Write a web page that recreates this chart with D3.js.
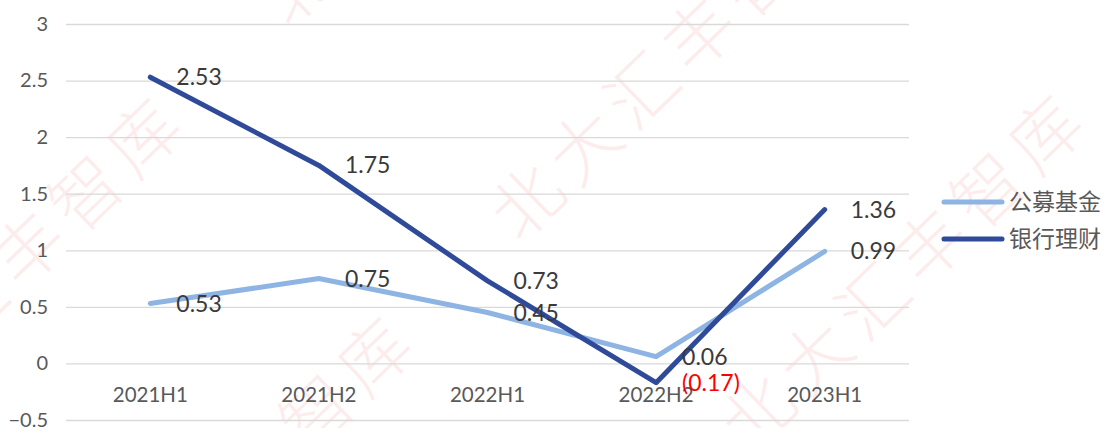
<!DOCTYPE html>
<html>
<head>
<meta charset="utf-8">
<script src="https://cdn.jsdelivr.net/npm/d3@7"></script>
<style>
  html, body { margin: 0; padding: 0; background: #fff; }
  svg { display: block; }
</style>
</head>
<body>
<div id="chart"></div>
<script>
const categories = ["2021H1", "2021H2", "2022H1", "2022H2", "2023H1"];
const seriesNames = ["公募基金", "银行理财"];
const fundValues = [0.53, 0.75, 0.45, 0.06, 0.99];
const bankValues = [2.53, 1.75, 0.73, -0.17, 1.36];
const fundLabels = ["0.53", "0.75", "0.45", "0.06", "0.99"];
const bankLabels = ["2.53", "1.75", "0.73", "(0.17)", "1.36"];
const yTicks = [-0.5, 0, 0.5, 1, 1.5, 2, 2.5, 3];
const watermarkText = "北大汇丰智库";

const W = 1105, H = 428;
const svg = d3.select("#chart").append("svg").attr("width", W).attr("height", H);

const x = d3.scaleBand().domain(categories).range([66, 909]);
const y = d3.scaleLinear().domain([-0.5, 3]).range([420, 24]);
const cx = d => x(d) + x.bandwidth() / 2;

// watermark
const wm = svg.append("g");
const wmCenters = [[4, 274], [675, 60], [235, 493], [906, 271], [444, -155]];
wmCenters.forEach(([px, py]) => {
  wm.append("text")
    .attr("transform", `translate(${px},${py}) rotate(-44)`)
    .attr("text-anchor", "middle")
    .attr("dy", "0.35em")
    .attr("font-family", "'Noto Sans CJK SC', sans-serif")
    .attr("font-weight", 300)
    .attr("font-size", 70)
    .attr("letter-spacing", 10)
    .attr("fill", "#e83030")
    .attr("fill-opacity", 0.09)
    .text(watermarkText);
});

// gridlines
const grid = svg.append("g")
  .attr("transform", "translate(66,0)")
  .call(d3.axisLeft(y).tickValues(yTicks).tickSize(-843).tickFormat(""));
grid.select(".domain").remove();
grid.selectAll("line").attr("stroke", "#d9d9d9").attr("stroke-width", 1.3);

// y tick labels
const yAxis = svg.append("g")
  .attr("transform", "translate(48,0)")
  .call(d3.axisLeft(y).tickValues(yTicks).tickSize(0).tickPadding(0).tickFormat(d3.format("")));
yAxis.select(".domain").remove();
yAxis.selectAll("text")
  .attr("font-family", "Lato, sans-serif")
  .attr("font-size", 20)
  .attr("fill", "#595959");

// x category labels
const xAxis = svg.append("g")
  .attr("transform", `translate(0,${y(0)})`)
  .call(d3.axisBottom(x).tickSize(0).tickPadding(24));
xAxis.select(".domain").remove();
xAxis.selectAll("text")
  .attr("font-family", "Lato, sans-serif")
  .attr("font-size", 20.5)
  .attr("fill", "#595959");

// lines
const line = d3.line().x((d, i) => cx(categories[i])).y(d => y(d));
svg.append("path").datum(fundValues)
  .attr("d", line).attr("fill", "none")
  .attr("stroke", "#8eb4e3").attr("stroke-width", 5)
  .attr("stroke-linecap", "round").attr("stroke-linejoin", "round");
svg.append("path").datum(bankValues)
  .attr("d", line).attr("fill", "none")
  .attr("stroke", "#2f4a98").attr("stroke-width", 5)
  .attr("stroke-linecap", "round").attr("stroke-linejoin", "round");

// data labels
function labels(values, texts, colorFn) {
  svg.append("g").selectAll("text").data(values).join("text")
    .attr("x", (d, i) => cx(categories[i]) + 26)
    .attr("y", d => y(d))
    .attr("dy", "0.35em")
    .attr("font-family", "Lato, sans-serif")
    .attr("font-size", 23)
    .attr("fill", (d, i) => colorFn(d, i))
    .text((d, i) => texts[i]);
}
labels(fundValues, fundLabels, () => "#3a3a3a");
labels(bankValues, bankLabels, d => d < 0 ? "#ff0000" : "#3a3a3a");

// legend
const legendColors = ["#8eb4e3", "#2f4a98"];
const legendY = [202, 239];
const lg = svg.append("g");
seriesNames.forEach((name, i) => {
  lg.append("line")
    .attr("x1", 944).attr("x2", 1002)
    .attr("y1", legendY[i]).attr("y2", legendY[i])
    .attr("stroke", legendColors[i]).attr("stroke-width", 5)
    .attr("stroke-linecap", "round");
  lg.append("text")
    .attr("x", 1009).attr("y", legendY[i]).attr("dy", "0.35em")
    .attr("font-family", "'Noto Sans CJK SC', sans-serif")
    .attr("font-size", 23)
    .attr("fill", "#595959")
    .text(name);
});
</script>
</body>
</html>
